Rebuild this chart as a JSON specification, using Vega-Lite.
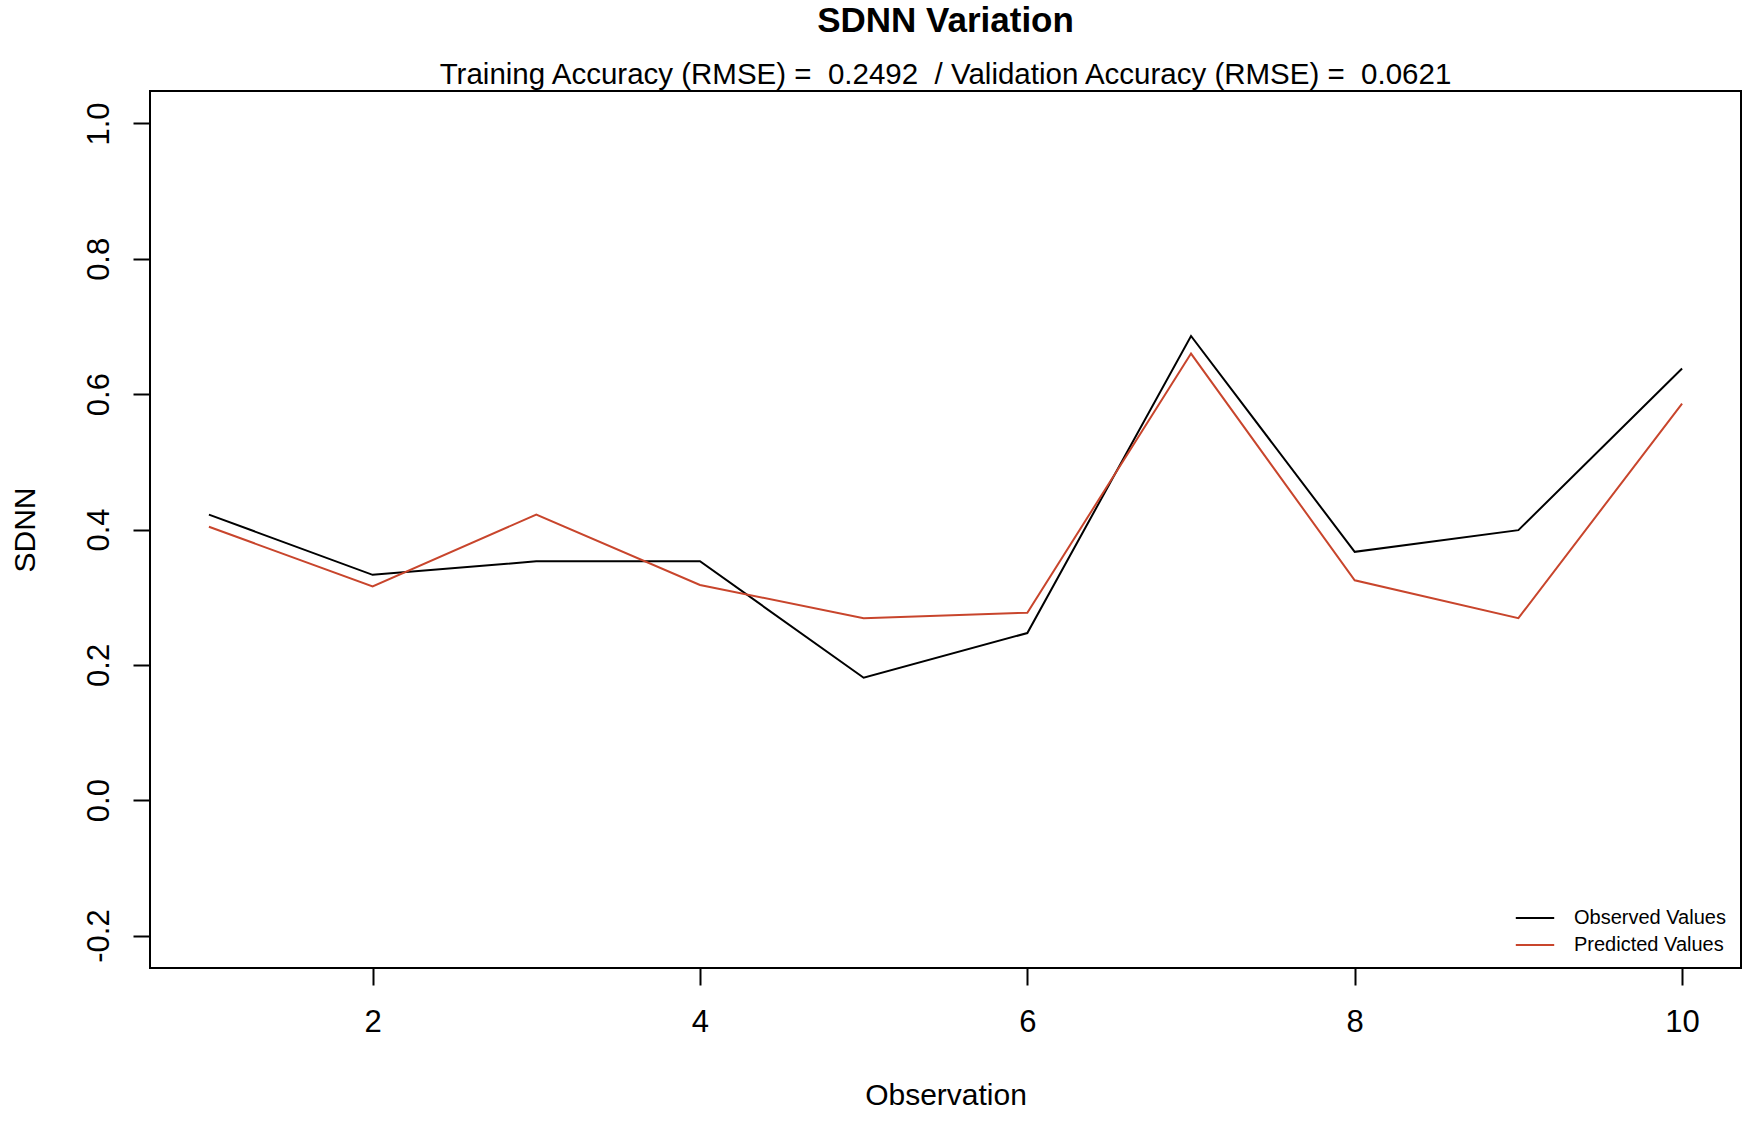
{
  "$schema": "https://vega.github.io/schema/vega-lite/v6.json",
  "autosize": "none",
  "padding": {"left": 150, "top": 91, "right": 9, "bottom": 153},
  "width": 1591,
  "height": 877,
  "background": "white",
  "title": {
    "text": "SDNN Variation",
    "subtitle": "Training Accuracy (RMSE) =\u00a0 0.2492\u00a0 / Validation Accuracy (RMSE) =\u00a0 0.0621",
    "anchor": "middle",
    "font": "Liberation Sans",
    "fontSize": 35,
    "fontWeight": "bold",
    "color": "black",
    "subtitleFont": "Liberation Sans",
    "subtitleFontSize": 29.5,
    "subtitleColor": "black",
    "subtitlePadding": 22,
    "offset": 2
  },
  "config": {
    "view": {"stroke": "black", "strokeWidth": 2},
    "axis": {
      "grid": false,
      "domain": false,
      "tickColor": "black",
      "tickWidth": 2,
      "tickSize": 17,
      "labelFont": "Liberation Sans",
      "labelFontSize": 31,
      "labelColor": "black",
      "titleFont": "Liberation Sans",
      "titleFontSize": 30,
      "titleFontWeight": "normal",
      "titleColor": "black"
    }
  },
  "data": {
    "values": [
      {"obs": 1, "series": "Observed Values", "sdnn": 0.422},
      {"obs": 2, "series": "Observed Values", "sdnn": 0.333},
      {"obs": 3, "series": "Observed Values", "sdnn": 0.353},
      {"obs": 4, "series": "Observed Values", "sdnn": 0.353},
      {"obs": 5, "series": "Observed Values", "sdnn": 0.181},
      {"obs": 6, "series": "Observed Values", "sdnn": 0.247},
      {"obs": 7, "series": "Observed Values", "sdnn": 0.686},
      {"obs": 8, "series": "Observed Values", "sdnn": 0.367},
      {"obs": 9, "series": "Observed Values", "sdnn": 0.399},
      {"obs": 10, "series": "Observed Values", "sdnn": 0.638},
      {"obs": 1, "series": "Predicted Values", "sdnn": 0.404},
      {"obs": 2, "series": "Predicted Values", "sdnn": 0.316},
      {"obs": 3, "series": "Predicted Values", "sdnn": 0.422},
      {"obs": 4, "series": "Predicted Values", "sdnn": 0.318},
      {"obs": 5, "series": "Predicted Values", "sdnn": 0.269},
      {"obs": 6, "series": "Predicted Values", "sdnn": 0.277},
      {"obs": 7, "series": "Predicted Values", "sdnn": 0.660},
      {"obs": 8, "series": "Predicted Values", "sdnn": 0.325},
      {"obs": 9, "series": "Predicted Values", "sdnn": 0.269},
      {"obs": 10, "series": "Predicted Values", "sdnn": 0.586}
    ]
  },
  "mark": {"type": "line", "strokeWidth": 2},
  "encoding": {
    "x": {
      "field": "obs",
      "type": "quantitative",
      "title": "Observation",
      "scale": {"domain": [0.64, 10.36], "nice": false, "zero": false},
      "axis": {"values": [2, 4, 6, 8, 10], "labelPadding": 22, "titlePadding": 43}
    },
    "y": {
      "field": "sdnn",
      "type": "quantitative",
      "title": "SDNN",
      "scale": {"domain": [-0.248, 1.048], "nice": false, "zero": false},
      "axis": {
        "values": [-0.2, 0, 0.2, 0.4, 0.6, 0.8, 1.0],
        "format": ".1f",
        "labelExpr": "replace(datum.label, '\u2212', '-')",
        "labelAngle": -90,
        "labelAlign": "center",
        "labelBaseline": "bottom",
        "labelPadding": 18,
        "titlePadding": 43
      }
    },
    "color": {
      "field": "series",
      "type": "nominal",
      "scale": {"domain": ["Observed Values", "Predicted Values"], "range": ["black", "#c8452c"]},
      "legend": {
        "title": null,
        "orient": "none",
        "legendX": 1372,
        "legendY": 814,
        "padding": 0,
        "symbolType": "M-1.6,0H1.6",
        "symbolSize": 576,
        "symbolStrokeWidth": 2,
        "rowPadding": 4,
        "labelOffset": 26,
        "labelFont": "Liberation Sans",
        "labelFontSize": 20,
        "labelColor": "black"
      }
    }
  }
}
